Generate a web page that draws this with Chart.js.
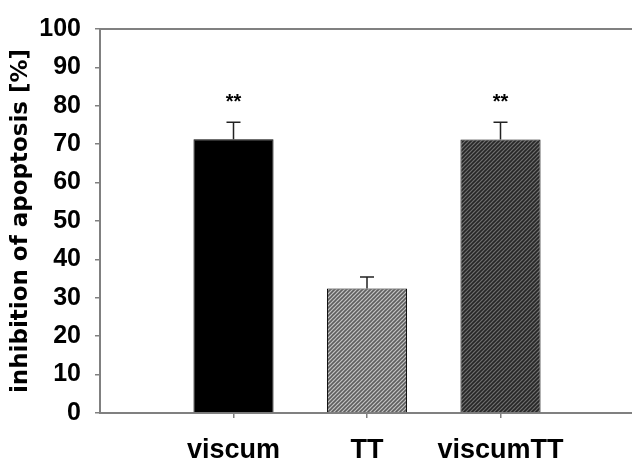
<!DOCTYPE html>
<html>
<head>
<meta charset="utf-8">
<script src="https://cdn.jsdelivr.net/npm/chart.js@4/dist/chart.umd.min.js"></script>
<style>
  body { margin: 0; background: #fff; }
  canvas { display: block; }
</style>
</head>
<body>
<canvas id="bars" width="632" height="461"></canvas>
<script>
// values
var categories = ['viscum', 'TT', 'viscumTT'];
var inhibition = [71.3, 32.4, 71.2];
var errorUp = [75.7, 35.4, 75.7];
var stars = ['**', '', '**'];
var yTicks = [0, 10, 20, 30, 40, 50, 60, 70, 80, 90, 100];

function hatch(bg, fg) {
    var s = 4;
    var c = document.createElement('canvas');
    c.width = s; c.height = s;
    var g = c.getContext('2d');
    g.fillStyle = bg;
    g.fillRect(0, 0, s, s);
    g.strokeStyle = fg;
    g.lineWidth = 1.6;
    g.beginPath();
    g.moveTo(0, s); g.lineTo(s, 0);
    g.moveTo(-1, 1); g.lineTo(1, -1);
    g.moveTo(s - 1, s + 1); g.lineTo(s + 1, s - 1);
    g.stroke();
    return g.createPattern(c, 'repeat');
}

var ctx = document.getElementById('bars').getContext('2d');
var fills = ['#000000', hatch('#c4c4c4', '#5e5e5e'), hatch('#707070', '#262626')];

var errorBars = {
    id: 'errorBars',
    afterDatasetsDraw: function (chart) {
        var c = chart.ctx;
        var xs = chart.scales.x, ys = chart.scales.y;
        c.save();
        c.strokeStyle = '#222';
        c.lineWidth = 1.5;
        categories.forEach(function (cat, i) {
            var x = xs.getPixelForValue(i + 1);
            var y0 = ys.getPixelForValue(inhibition[i]);
            var y1 = ys.getPixelForValue(errorUp[i]);
            c.beginPath();
            c.moveTo(x, y0); c.lineTo(x, y1);
            c.moveTo(x - 7, y1); c.lineTo(x + 7, y1);
            c.stroke();
            if (stars[i]) {
                c.fillStyle = '#000';
                c.font = 'bold 20px "Liberation Sans", Arial, sans-serif';
                c.textAlign = 'center';
                c.textBaseline = 'alphabetic';
                c.fillText(stars[i], x, y1 - 14);
            }
        });
        // top frame line
        var a = chart.chartArea;
        c.strokeStyle = '#808080';
        c.lineWidth = 2;
        c.beginPath();
        c.moveTo(a.left - 1, a.top);
        c.lineTo(chart.width, a.top);
        c.stroke();
        c.restore();
    }
};

new Chart(ctx, {
    type: 'bar',
    data: {
        datasets: [{
            data: inhibition.map(function (v, i) { return { x: i + 1, y: v }; }),
            backgroundColor: fills,
            borderColor: '#000',
            borderWidth: 1,
            borderSkipped: 'bottom',
            categoryPercentage: 1,
            barPercentage: 0.6
        }]
    },
    options: {
        responsive: false,
        animation: false,
        layout: { padding: { top: 23, right: 0, left: 0, bottom: 0 } },
        plugins: { legend: { display: false }, tooltip: { enabled: false } },
        scales: {
            x: {
                type: 'linear',
                offset: false,
                min: 0,
                max: 3.985,
                afterBuildTicks: function (s) {
                    s.ticks = categories.map(function (c, i) { return { value: i + 1 }; });
                },
                afterFit: function (s) { s.height = 48; },
                ticks: {
                    callback: function (v) { return categories[v - 1]; },
                    color: '#000',
                    font: { family: '"Liberation Sans", Arial, sans-serif', size: 27, weight: 'bold' },
                    padding: 16,
                    maxRotation: 0
                },
                grid: { offset: false, drawOnChartArea: false, tickLength: 5, color: '#808080', lineWidth: 1.5 },
                border: { color: '#808080', width: 2 }
            },
            y: {
                min: 0,
                max: 100,
                afterBuildTicks: function (s) {
                    s.ticks = yTicks.map(function (v) { return { value: v }; });
                },
                afterFit: function (s) { s.width = 100; },
                ticks: {
                    color: '#000',
                    font: { family: '"Liberation Sans", Arial, sans-serif', size: 25, weight: 'bold' },
                    padding: 14
                },
                grid: { drawOnChartArea: false, tickLength: 5, color: '#808080', lineWidth: 1.5 },
                border: { color: '#808080', width: 2 },
                title: {
                    display: true,
                    text: 'inhibition of apoptosis [%]',
                    color: '#000',
                    font: { family: '"DejaVu Sans", sans-serif', size: 23, weight: 'bold' },
                    padding: { top: 7, bottom: 0 }
                }
            }
        }
    },
    plugins: [errorBars]
});
</script>
</body>
</html>
